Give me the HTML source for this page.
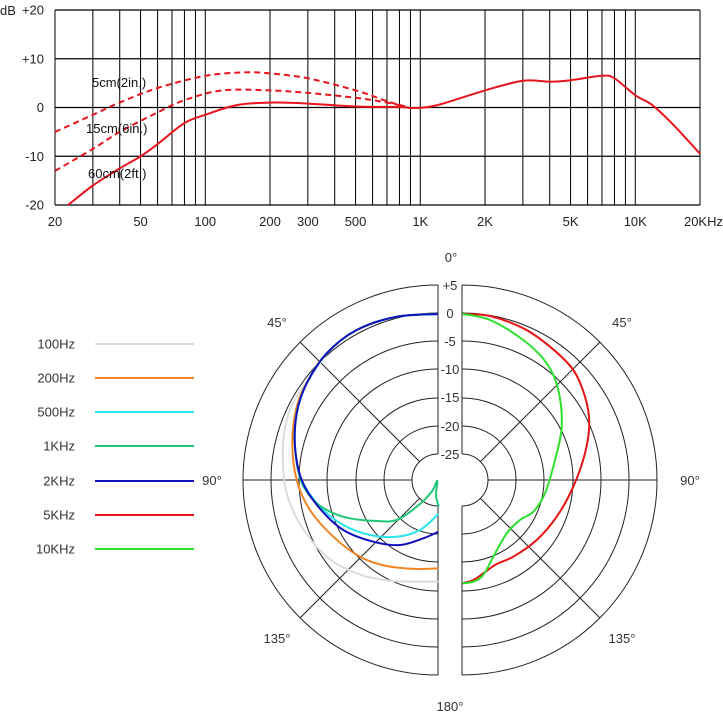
<!DOCTYPE html><html><head><meta charset="utf-8"><style>
body{margin:0;background:#fff}
svg{display:block;font-family:"Liberation Sans",sans-serif}
</style></head><body>
<svg id="s" width="723" height="723" xmlns="http://www.w3.org/2000/svg">
<g id="top"></g>
<g id="pol"></g>
</svg>
<script>
const NS="http://www.w3.org/2000/svg";
function el(p,t,a,txt){const e=document.createElementNS(NS,t);for(const k in a)e.setAttribute(k,a[k]);if(txt!==undefined)e.textContent=txt;p.appendChild(e);return e;}
function cr(pts){let d="M"+pts[0][0]+","+pts[0][1];for(let i=0;i<pts.length-1;i++){const p0=pts[i-1]||pts[i],p1=pts[i],p2=pts[i+1],p3=pts[i+2]||p2;
d+=" C"+(p1[0]+(p2[0]-p0[0])/6).toFixed(1)+","+(p1[1]+(p2[1]-p0[1])/6).toFixed(1)+" "+(p2[0]-(p3[0]-p1[0])/6).toFixed(1)+","+(p2[1]-(p3[1]-p1[1])/6).toFixed(1)+" "+p2[0]+","+p2[1];}return d;}
const T=document.getElementById("top");
const X=f=>55+215*Math.log10(f/20), Y=db=>107.5-db*4.875;
// grid
const fs=[20,30,40,50,60,70,80,90,100,200,300,400,500,600,700,800,900,1000,2000,3000,4000,5000,6000,7000,8000,9000,10000,20000];
fs.forEach(f=>el(T,"line",{x1:X(f),x2:X(f),y1:10,y2:205,stroke:"#000","stroke-width":1}));
[20,10,0,-10,-20].forEach(d=>el(T,"line",{x1:55,x2:700,y1:Y(d),y2:Y(d),stroke:"#000","stroke-width":1.2}));
[["+20",20],["+10",10],["0",0],["-10",-10],["-20",-20]].forEach(([t,d])=>el(T,"text",{x:44,y:Y(d)+4.5,"text-anchor":"end","font-size":13,fill:"#222"},t));
el(T,"text",{x:0,y:15,"font-size":13,fill:"#222"},"dB");
[["20",20],["50",50],["100",100],["200",200],["300",300],["500",500],["1K",1000],["2K",2000],["5K",5000],["10K",10000]].forEach(([t,f])=>el(T,"text",{x:X(f),y:226,"text-anchor":"middle","font-size":13,fill:"#222"},t));
el(T,"text",{x:723,y:226,"text-anchor":"end","font-size":13,fill:"#222"},"20KHz");
const mk=d=>d.map(([f,v])=>[+X(f).toFixed(1),+Y(v).toFixed(1)]);
el(T,"path",{d:cr(mk([[23,-20],[30,-16],[40,-12.5],[50,-10],[60,-7.5],[80,-3.2],[100,-1.5],[140,0.5],[200,1],[300,0.8],[500,0.2],[800,0.1],[950,-0.1],[1200,0.5],[2000,3.5],[3000,5.5],[4000,5.3],[5000,5.6],[7000,6.5],[8000,6],[10000,2.5],[12000,0.5],[15000,-3.5],[20000,-9.5]])),fill:"none",stroke:"#e8141e","stroke-width":2});
el(T,"path",{d:cr(mk([[20,-5],[30,-1.5],[40,1],[60,4],[100,6.5],[150,7.2],[200,7],[300,6],[500,3.5],[700,1.3],[850,0.2]])),fill:"none",stroke:"#e8141e","stroke-width":2,"stroke-dasharray":"6,4"});
el(T,"path",{d:cr(mk([[20,-13],[30,-8.5],[40,-5],[60,-1],[80,1.5],[120,3.5],[200,3.5],[300,3],[500,2],[700,1],[850,0.2]])),fill:"none",stroke:"#e8141e","stroke-width":2,"stroke-dasharray":"6,4"});
[["5cm(2in.)",92,87],["15cm(6in.)",86,133],["60cm(2ft.)",88,178]].forEach(([t,x,y])=>el(T,"text",{x:x,y:y,"font-size":13,fill:"#111"},t));
// polar
const P=document.getElementById("pol");
const cy=480,cl=438,crx=462,rs=[195,167,139,111,82,54,26];
rs.forEach(r=>{el(P,"path",{d:`M${cl},${cy-r} A${r},${r} 0 0 0 ${cl},${cy+r}`,fill:"none",stroke:"#222","stroke-width":1});
el(P,"path",{d:`M${crx},${cy-r} A${r},${r} 0 0 1 ${crx},${cy+r}`,fill:"none",stroke:"#222","stroke-width":1});});
el(P,"line",{x1:cl,x2:cl,y1:285,y2:454,stroke:"#222"});el(P,"line",{x1:cl,x2:cl,y1:506,y2:675,stroke:"#222"});
el(P,"line",{x1:crx,x2:crx,y1:285,y2:454,stroke:"#222"});el(P,"line",{x1:crx,x2:crx,y1:506,y2:675,stroke:"#222"});
[45,90,135].forEach(a=>{const s=Math.sin(a*Math.PI/180),c=Math.cos(a*Math.PI/180);
el(P,"line",{x1:cl-26*s,y1:cy-26*c,x2:cl-195*s,y2:cy-195*c,stroke:"#222"});
el(P,"line",{x1:crx+26*s,y1:cy-26*c,x2:crx+195*s,y2:cy-195*c,stroke:"#222"});});
[["+5",285],["0",313],["-5",341],["-10",369],["-15",397],["-20",426],["-25",454]].forEach(([t,y])=>{el(P,"rect",{x:439,y:y-8,width:22,height:15,fill:"#fff"});el(P,"text",{x:450,y:y+5,"text-anchor":"middle","font-size":13,fill:"#333"},t);});
[["0°",451,262],["45°",277,327],["45°",622,327],["90°",212,485],["90°",690,485],["135°",277,643],["135°",622,643],["180°",450,711]].forEach(([t,x,y])=>el(P,"text",{x:x,y:y,"text-anchor":"middle","font-size":13,fill:"#333"},t));
const Z=pts=>pts.map(([x,y])=>[+(230+x/3).toFixed(1),+(240+y/3).toFixed(1)]);
const curves=[
["#dcdcdc",[[625,222],[500,230],[380,270],[300,330],[250,400],[200,470],[170,540],[158,640],[170,760],[215,860],[290,950],[380,1000],[480,1022],[625,1025]]],
["#f08424",[[625,222],[500,230],[380,270],[290,340],[235,420],[200,500],[187,610],[200,720],[240,810],[310,890],[390,950],[470,978],[560,987],[625,985]]],
["#2ae6ec",[[625,222],[500,230],[380,270],[290,340],[230,430],[200,520],[195,620],[215,720],[270,800],[340,855],[420,885],[500,890],[570,870],[625,822]]],
["#20c878",[[625,222],[500,230],[380,270],[290,340],[230,430],[200,520],[195,620],[212,720],[250,780],[300,815],[360,835],[440,843],[500,840],[560,800],[605,755],[622,722],[618,765],[626,800]]],
["#1010c0",[[625,222],[500,230],[380,270],[290,340],[230,430],[200,520],[195,620],[215,720],[265,800],[340,870],[430,905],[510,915],[580,895],[625,875]]],
["#e41414",[[697,222],[780,228],[880,265],[960,320],[1030,390],[1065,470],[1078,550],[1065,640],[1030,740],[980,830],[920,900],[850,950],[800,972],[760,1000],[730,1020],[697,1030]]],
["#2ee02e",[[697,222],[780,240],[880,300],[950,370],[985,450],[995,560],[975,660],[945,760],[910,815],[870,840],[830,880],[790,950],[760,1005],[730,1025],[697,1030]]]];
curves.forEach(([c,p])=>el(P,"path",{d:cr(Z(p)),fill:"none",stroke:c,"stroke-width":2}));
const labs=["100Hz","200Hz","500Hz","1KHz","2KHz","5KHz","10KHz"],ys=[344,378,412,446,481,515,549];
labs.forEach((t,i)=>{el(P,"text",{x:75,y:ys[i]+4.5,"text-anchor":"end","font-size":13,fill:"#333"},t);el(P,"line",{x1:95,x2:194,y1:ys[i],y2:ys[i],stroke:curves[i][0],"stroke-width":2});});
</script>
</body></html>
